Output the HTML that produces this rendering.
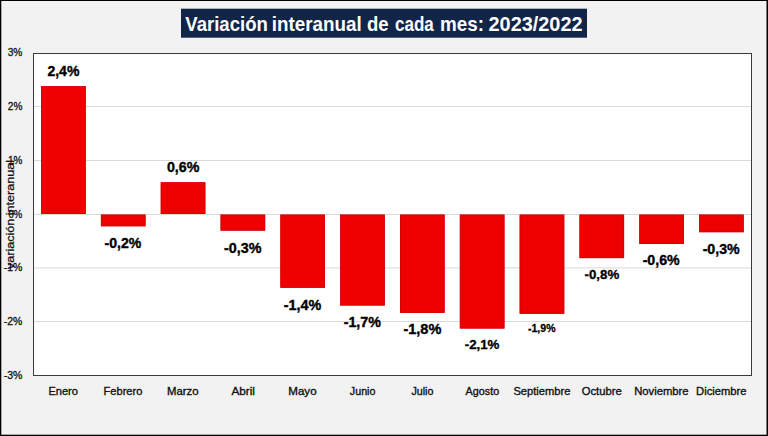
<!DOCTYPE html>
<html><head><meta charset="utf-8"><title>Variación interanual</title><style>
html,body{margin:0;padding:0;width:768px;height:436px;overflow:hidden;background:#f2f2f2;font-family:"Liberation Sans", sans-serif;}
svg{display:block;}
</style></head><body>
<svg width="768" height="436" viewBox="0 0 768 436" font-family='"Liberation Sans", sans-serif'>
<rect x="0" y="0" width="768" height="436" fill="#f2f2f2"/>
<rect x="181" y="8.7" width="406" height="29" fill="#112548"/>
<text transform="translate(185.31,31.00) scale(0.9280,1.0000)" font-size="20" font-weight="bold" fill="#fff">Variación</text>
<text transform="translate(271.78,31.00) scale(0.9429,1.0000)" font-size="20" font-weight="bold" fill="#fff">interanual</text>
<text transform="translate(366.96,31.00) scale(0.9269,1.0000)" font-size="20" font-weight="bold" fill="#fff">de</text>
<text transform="translate(394.92,31.00) scale(0.8530,1.0000)" font-size="20" font-weight="bold" fill="#fff">cada</text>
<text transform="translate(440.07,31.00) scale(0.9425,1.0000)" font-size="20" font-weight="bold" fill="#fff">mes:</text>
<text transform="translate(488.50,31.00) scale(0.9957,1.0000)" font-size="20" font-weight="bold" fill="#fff">2023/2022</text>
<rect x="33.5" y="53.5" width="718" height="322" fill="#fff" stroke="#3a3a3a" stroke-width="1"/>
<rect x="34" y="106" width="717" height="1" fill="#dadada"/>
<rect x="34" y="160" width="717" height="1" fill="#dadada"/>
<rect x="34" y="214" width="717" height="1" fill="#dadada"/>
<rect x="34" y="267.4" width="717" height="1" fill="#dadada"/>
<rect x="34" y="321" width="717" height="1" fill="#dadada"/>
<rect x="41.10" y="86.2" width="44.6" height="127.80" fill="#ee0000"/>
<rect x="41.45" y="86.55" width="43.90" height="127.10" fill="none" stroke="#cc0404" stroke-width="0.7"/>
<rect x="100.92" y="214.6" width="44.6" height="11.65" fill="#ee0000"/>
<rect x="101.27" y="214.95" width="43.90" height="10.95" fill="none" stroke="#cc0404" stroke-width="0.7"/>
<rect x="160.74" y="182.3" width="44.6" height="31.70" fill="#ee0000"/>
<rect x="161.09" y="182.65" width="43.90" height="31.00" fill="none" stroke="#cc0404" stroke-width="0.7"/>
<rect x="220.56" y="214.6" width="44.6" height="16.00" fill="#ee0000"/>
<rect x="220.91" y="214.95" width="43.90" height="15.30" fill="none" stroke="#cc0404" stroke-width="0.7"/>
<rect x="280.38" y="214.6" width="44.6" height="73.20" fill="#ee0000"/>
<rect x="280.73" y="214.95" width="43.90" height="72.50" fill="none" stroke="#cc0404" stroke-width="0.7"/>
<rect x="340.20" y="214.6" width="44.6" height="90.90" fill="#ee0000"/>
<rect x="340.55" y="214.95" width="43.90" height="90.20" fill="none" stroke="#cc0404" stroke-width="0.7"/>
<rect x="400.02" y="214.6" width="44.6" height="98.30" fill="#ee0000"/>
<rect x="400.37" y="214.95" width="43.90" height="97.60" fill="none" stroke="#cc0404" stroke-width="0.7"/>
<rect x="459.84" y="214.6" width="44.6" height="113.90" fill="#ee0000"/>
<rect x="460.19" y="214.95" width="43.90" height="113.20" fill="none" stroke="#cc0404" stroke-width="0.7"/>
<rect x="519.66" y="214.6" width="44.6" height="99.15" fill="#ee0000"/>
<rect x="520.01" y="214.95" width="43.90" height="98.45" fill="none" stroke="#cc0404" stroke-width="0.7"/>
<rect x="579.48" y="214.6" width="44.6" height="43.50" fill="#ee0000"/>
<rect x="579.83" y="214.95" width="43.90" height="42.80" fill="none" stroke="#cc0404" stroke-width="0.7"/>
<rect x="639.30" y="214.6" width="44.6" height="29.40" fill="#ee0000"/>
<rect x="639.65" y="214.95" width="43.90" height="28.70" fill="none" stroke="#cc0404" stroke-width="0.7"/>
<rect x="699.12" y="214.6" width="44.6" height="17.60" fill="#ee0000"/>
<rect x="699.47" y="214.95" width="43.90" height="16.90" fill="none" stroke="#cc0404" stroke-width="0.7"/>
<text transform="translate(47.41,75.80) scale(1.0039,1.0510)" font-size="14" font-weight="bold" fill="#000" stroke="#000" stroke-width="0.35">2,4%</text>
<text transform="translate(104.54,247.70) scale(1.0076,1.0306)" font-size="14" font-weight="bold" fill="#000" stroke="#000" stroke-width="0.35">-0,2%</text>
<text transform="translate(166.93,172.10) scale(1.0190,1.0510)" font-size="14" font-weight="bold" fill="#000" stroke="#000" stroke-width="0.35">0,6%</text>
<text transform="translate(223.93,252.50) scale(1.0244,1.0102)" font-size="14" font-weight="bold" fill="#000" stroke="#000" stroke-width="0.35">-0,3%</text>
<text transform="translate(283.82,309.60) scale(1.0272,1.0306)" font-size="14" font-weight="bold" fill="#000" stroke="#000" stroke-width="0.35">-1,4%</text>
<text transform="translate(343.63,326.90) scale(1.0216,1.0306)" font-size="14" font-weight="bold" fill="#000" stroke="#000" stroke-width="0.35">-1,7%</text>
<text transform="translate(403.42,334.30) scale(1.0385,1.0306)" font-size="14" font-weight="bold" fill="#000" stroke="#000" stroke-width="0.35">-1,8%</text>
<text transform="translate(464.77,348.80) scale(0.9486,0.9694)" font-size="14" font-weight="bold" fill="#000" stroke="#000" stroke-width="0.35">-2,1%</text>
<text transform="translate(527.98,331.60) scale(0.7550,0.7653)" font-size="14" font-weight="bold" fill="#000" stroke="#000" stroke-width="0.35">-1,9%</text>
<text transform="translate(584.57,278.60) scale(0.9486,0.9796)" font-size="14" font-weight="bold" fill="#000" stroke="#000" stroke-width="0.35">-0,8%</text>
<text transform="translate(642.63,265.30) scale(1.0132,1.0306)" font-size="14" font-weight="bold" fill="#000" stroke="#000" stroke-width="0.35">-0,6%</text>
<text transform="translate(702.63,253.50) scale(1.0132,1.0204)" font-size="14" font-weight="bold" fill="#000" stroke="#000" stroke-width="0.35">-0,3%</text>
<text transform="translate(14.4,269.1) rotate(-90) scale(1.1053,1.0)" font-size="11.4" fill="#111" stroke="#111" stroke-width="0.25">variación interanual</text>
<text transform="translate(7.65,56.30) scale(0.9421,0.9921)" font-size="10.8" font-weight="normal" fill="#111" stroke="#111" stroke-width="0.3">3%</text>
<text transform="translate(7.80,110.10) scale(0.9327,1.0053)" font-size="10.8" font-weight="normal" fill="#111" stroke="#111" stroke-width="0.3">2%</text>
<text transform="translate(7.95,163.80) scale(0.9225,0.9921)" font-size="10.8" font-weight="normal" fill="#111" stroke="#111" stroke-width="0.3">1%</text>
<text transform="translate(8.52,217.60) scale(0.8854,0.9921)" font-size="10.8" font-weight="normal" fill="#111" stroke="#111" stroke-width="0.3">0%</text>
<text transform="translate(3.73,271.40) scale(0.9724,1.0185)" font-size="10.8" font-weight="normal" fill="#111" stroke="#111" stroke-width="0.3">-1%</text>
<text transform="translate(3.83,325.30) scale(0.9669,1.0185)" font-size="10.8" font-weight="normal" fill="#111" stroke="#111" stroke-width="0.3">-2%</text>
<text transform="translate(3.73,378.80) scale(0.9724,1.0317)" font-size="10.8" font-weight="normal" fill="#111" stroke="#111" stroke-width="0.3">-3%</text>
<text transform="translate(48.47,394.70) scale(1.0038,0.9618)" font-size="11" font-weight="normal" fill="#111" stroke="#111" stroke-width="0.35">Enero</text>
<text transform="translate(103.58,394.70) scale(1.0086,0.9618)" font-size="11" font-weight="normal" fill="#111" stroke="#111" stroke-width="0.35">Febrero</text>
<text transform="translate(167.03,394.70) scale(1.0341,0.9618)" font-size="11" font-weight="normal" fill="#111" stroke="#111" stroke-width="0.35">Marzo</text>
<text transform="translate(231.50,394.70) scale(1.0645,0.9618)" font-size="11" font-weight="normal" fill="#111" stroke="#111" stroke-width="0.35">Abril</text>
<text transform="translate(288.25,394.70) scale(1.0557,0.9618)" font-size="11" font-weight="normal" fill="#111" stroke="#111" stroke-width="0.35">Mayo</text>
<text transform="translate(349.84,394.70) scale(0.9733,0.9618)" font-size="11" font-weight="normal" fill="#111" stroke="#111" stroke-width="0.35">Junio</text>
<text transform="translate(411.46,394.70) scale(0.9727,0.9618)" font-size="11" font-weight="normal" fill="#111" stroke="#111" stroke-width="0.35">Julio</text>
<text transform="translate(465.54,394.70) scale(0.9818,0.9618)" font-size="11" font-weight="normal" fill="#111" stroke="#111" stroke-width="0.35">Agosto</text>
<text transform="translate(513.41,394.70) scale(1.0149,0.9618)" font-size="11" font-weight="normal" fill="#111" stroke="#111" stroke-width="0.35">Septiembre</text>
<text transform="translate(581.77,394.70) scale(1.0217,0.9618)" font-size="11" font-weight="normal" fill="#111" stroke="#111" stroke-width="0.35">Octubre</text>
<text transform="translate(634.15,394.70) scale(1.0249,0.9618)" font-size="11" font-weight="normal" fill="#111" stroke="#111" stroke-width="0.35">Noviembre</text>
<text transform="translate(696.08,394.70) scale(1.0161,0.9618)" font-size="11" font-weight="normal" fill="#111" stroke="#111" stroke-width="0.35">Diciembre</text>
<rect x="0" y="0" width="768" height="1" fill="#000"/>
<rect x="0" y="0" width="1.3" height="436" fill="#000"/>
<rect x="766.5" y="0" width="1.5" height="436" fill="#000"/>
<rect x="0" y="434.7" width="768" height="1.3" fill="#000"/>
</svg>
</body></html>
